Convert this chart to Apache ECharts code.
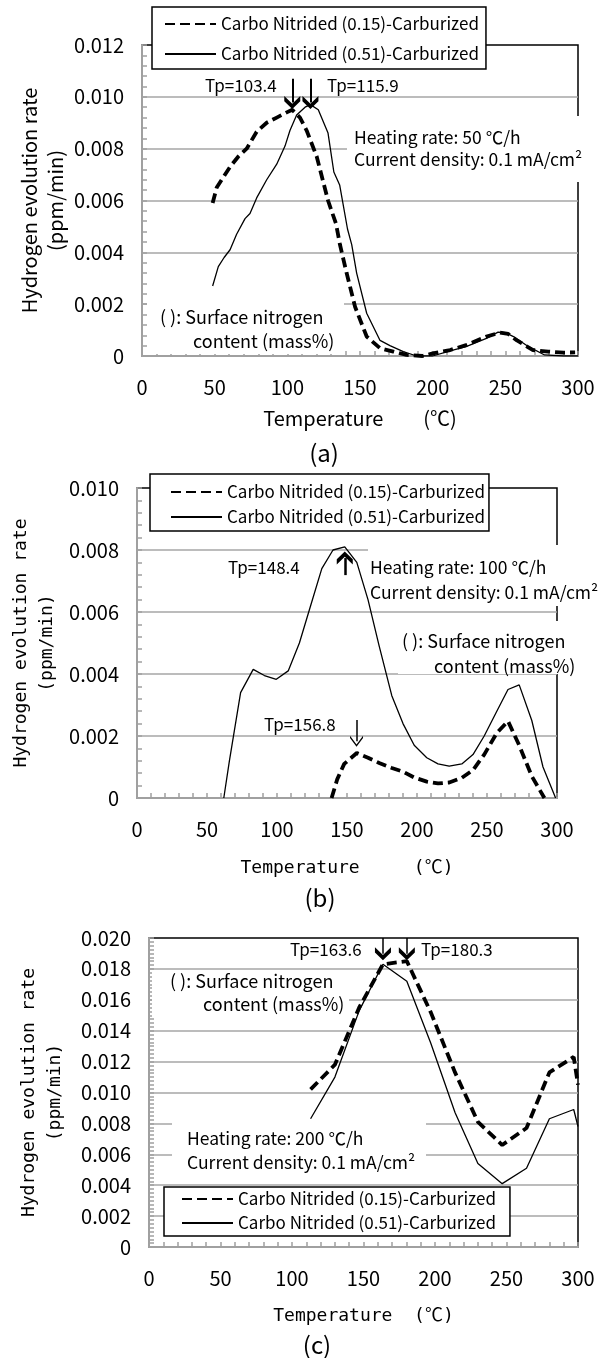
<!DOCTYPE html>
<html>
<head>
<meta charset="utf-8">
<script src="https://cdn.jsdelivr.net/npm/echarts@6.0.0/dist/echarts.min.js"></script>
<style>
  html, body { margin: 0; padding: 0; background: #fff; }
  #chart { width: 606px; height: 1358px; }
</style>
</head>
<body>
<div id="chart"></div>
<script>
var N15 = 'Carbo Nitrided (0.15)-Carburized';
var N51 = 'Carbo Nitrided (0.51)-Carburized';

// (a) heating rate 50 ℃/h
var tempA15 = [48.6, 51.4, 56, 60.6, 66.3, 72, 78.9, 85.8, 92.7, 99.6, 103.4, 108.7, 113.3, 120.2, 128, 133.5, 136.2, 140.8, 146.6, 154.6, 163.8, 173, 182, 193, 200, 212, 223, 237, 246.3, 252, 258, 269, 279.5, 290, 298];
var rateA15 = [0.0059, 0.0065, 0.0069, 0.0073, 0.0077, 0.0080, 0.00865, 0.0090, 0.0092, 0.0094, 0.0095, 0.0092, 0.0087, 0.0077, 0.0060, 0.0051, 0.0043, 0.0032, 0.0019, 0.00075, 0.0003, 0.00017, 0.00004, 0, 0.0001, 0.00023, 0.00042, 0.00075, 0.0009, 0.00085, 0.0006, 0.00023, 0.00017, 0.00013, 0.00014];
var tempA51 = [48.6, 52.5, 56.5, 60.6, 65.1, 70.9, 74.3, 78.9, 85.8, 92.7, 98.4, 101.8, 106.4, 112.2, 115.9, 121.3, 128, 132, 136, 141.4, 144.3, 147.7, 154.6, 163.8, 170.6, 179.8, 189, 200, 212, 223, 237, 245, 250, 255.6, 266, 277, 290, 300];
var rateA51 = [0.0027, 0.00345, 0.0038, 0.0041, 0.0047, 0.0053, 0.0055, 0.0061, 0.0068, 0.0074, 0.0081, 0.0087, 0.0093, 0.0096, 0.0097, 0.0095, 0.0086, 0.0071, 0.0066, 0.0049, 0.0043, 0.0032, 0.00165, 0.0006, 0.0004, 0.00017, 0, 0, 0.0002, 0.00036, 0.00068, 0.00092, 0.0009, 0.00075, 0.00036, 0.00004, 0, 0];

// (b) heating rate 100 ℃/h
var tempB15 = [139, 143, 148, 157, 165, 173, 182, 190, 198, 207, 215, 223, 232, 240, 248, 257, 265, 273, 282, 291];
var rateB15 = [0, 0.0006, 0.0011, 0.00145, 0.0013, 0.00113, 0.00097, 0.00085, 0.00066, 0.00053, 0.00047, 0.0005, 0.00065, 0.0009, 0.0014, 0.0021, 0.00248, 0.0017, 0.0007, 0];
var tempB51 = [62, 66, 74, 83, 91, 99.5, 108, 116, 124, 132, 140, 148.4, 157, 165, 173, 182, 190, 198, 207, 215, 223, 232, 240, 248, 257, 265, 273, 282, 290, 299];
var rateB51 = [0, 0.0012, 0.0034, 0.00415, 0.00395, 0.00383, 0.0041, 0.005, 0.0062, 0.0074, 0.008, 0.0081, 0.0076, 0.0064, 0.0049, 0.0033, 0.0024, 0.0017, 0.0013, 0.0011, 0.00103, 0.0011, 0.0014, 0.0020, 0.0028, 0.0035, 0.00365, 0.0025, 0.001, 0];

// (c) heating rate 200 ℃/h
var tempC = [113, 130, 147, 163.6, 180.3, 197, 214, 230, 247, 264, 280, 297, 300];
var rateC15 = [0.0102, 0.0118, 0.0155, 0.0183, 0.0185, 0.0152, 0.0113, 0.0081, 0.0066, 0.0077, 0.0113, 0.0123, 0.0105];
var rateC51 = [0.0083, 0.0110, 0.0153, 0.0183, 0.0172, 0.0132, 0.0087, 0.0054, 0.0041, 0.0051, 0.0083, 0.0089, 0.0078];

// peak temperatures and arrow spans [from, to]
var tpA = [103.4, 115.9];
var arrowA = [0.0107, 0.00978];
var tpB = [148.4, 156.8];
var arrowB1 = [0.00719, 0.00774];
var arrowB2 = [0.00252, 0.00183];
var tpC = [163.6, 180.3];
var arrowC = [0.020, 0.01898];

var yMax = [0.012, 0.010, 0.020];

var JP = '"Noto Sans CJK JP", sans-serif';
var MONO = '"DejaVu Sans Mono", "Noto Sans CJK JP", monospace';
var GRAY = '#a0a0a0';
var CHEV = 'path://M5,0 L10,6 L10,10 L5,4 L0,10 L0,6 Z';
var CHEV_THIN = 'path://M5,0 L10,8 L10,10 L5,2 L0,10 L0,8 Z';

function zip(t, v) { return t.map(function (x, i) { return [x, v[i]]; }); }

function xAx(gi, name, font, size, gap) {
    return {
        type: 'value', gridIndex: gi, min: 0, max: 300, interval: 50,
        axisLine: { show: true, onZero: false, lineStyle: { color: GRAY, width: 2 } },
        axisTick: { show: true, inside: true, length: 5, lineStyle: { color: GRAY, width: 1.5 } },
        minorTick: { show: true, splitNumber: 5, length: 5, lineStyle: { color: GRAY, width: 1.5 } },
        axisLabel: { color: '#000', fontSize: 20, fontFamily: JP, margin: 21 },
        splitLine: { show: false },
        name: name, nameLocation: 'middle', nameGap: gap, nameMoveOverlap: false,
        nameTextStyle: { color: '#000', fontSize: size, fontFamily: font }
    };
}

function yAx(gi, max, minorSplit, font, size, gap) {
    return {
        type: 'value', gridIndex: gi, min: 0, max: max, interval: 0.002,
        axisLine: { show: true, onZero: false, lineStyle: { color: GRAY, width: 2 } },
        axisTick: { show: true, inside: true, length: 5, lineStyle: { color: GRAY, width: 1.5 } },
        minorTick: { show: true, splitNumber: minorSplit, length: 5, lineStyle: { color: GRAY, width: 1.5 } },
        axisLabel: {
            color: '#000', fontSize: 20, fontFamily: JP, margin: 18,
            formatter: function (v) { return v === 0 ? '0' : v.toFixed(3); }
        },
        splitLine: { show: true, showMinLine: false, showMaxLine: false, lineStyle: { color: '#a6a6a6', width: 1.5 } },
        name: 'Hydrogen evolution rate\n(ppm/min)', nameLocation: 'middle', nameGap: gap, nameMoveOverlap: false,
        nameTextStyle: { color: '#000', fontSize: size, fontFamily: font, lineHeight: 26 }
    };
}

function dashed(gi, data, mark) {
    return {
        name: N15, type: 'line', xAxisIndex: gi, yAxisIndex: gi, data: data,
        symbol: 'none', color: '#000', z: 3,
        lineStyle: { color: '#000', width: 3.8, type: [10, 5] },
        markLine: mark
    };
}
function solid(gi, data, mark) {
    return {
        name: N51, type: 'line', xAxisIndex: gi, yAxisIndex: gi, data: data,
        symbol: 'none', color: '#000', z: 3,
        lineStyle: { color: '#000', width: 1.3 },
        markLine: mark
    };
}

function arrows(xs, span, width, sym, size) {
    return {
        silent: true, animation: false, symbol: ['none', sym], symbolSize: size,
        label: { show: false },
        lineStyle: { color: '#000', type: 'solid', width: width },
        emphasis: { disabled: true },
        data: xs.map(function (x) { return [{ coord: [x, span[0]] }, { coord: [x, span[1]] }]; })
    };
}

function legendAt(left, top, padding, gap) {
    return {
        left: left, top: top, orient: 'vertical', padding: padding,
        itemWidth: 51, itemHeight: 14, itemGap: gap,
        backgroundColor: '#fff', borderColor: '#000', borderWidth: 1.5, borderRadius: 0,
        data: [N15, N51], selectedMode: false,
        itemStyle: { opacity: 0 },
        textStyle: { color: '#000', fontSize: 17, fontFamily: JP }
    };
}

function box(x, y, w, h) {
    return { type: 'rect', z: 1, shape: { x: x, y: y, width: w, height: h }, style: { fill: '#fff' }, silent: true };
}
function txt(x, y, s, size, align) {
    return {
        type: 'text', z: 1.5, x: x, y: y, silent: true,
        style: {
            text: s, font: size + 'px ' + JP, fill: '#000',
            align: align || 'left', verticalAlign: 'middle',
            textAlign: align || 'left', textVerticalAlign: 'middle'
        }
    };
}

var chart = echarts.init(document.getElementById('chart'));
chart.setOption({
    animation: false,
    backgroundColor: '#fff',
    grid: [
        { left: 142, top: 45, width: 436, height: 311 },
        { left: 137, top: 488, width: 420, height: 310 },
        { left: 149, top: 938, width: 429, height: 309 }
    ].map(function (g) {
        return Object.assign(g, { show: true, borderColor: '#000', borderWidth: 1.5, backgroundColor: 'transparent', containLabel: false, outerBoundsMode: 'none' });
    }),
    xAxis: [
        xAx(0, 'Temperature\u3000\u3000(℃)', JP, 20, 52),
        xAx(1, 'Temperature     (℃)', MONO, 18, 61),
        xAx(2, 'Temperature  (℃)', MONO, 18, 60)
    ],
    yAxis: [
        yAx(0, yMax[0], 5, JP, 20, 74),
        yAx(1, yMax[1], 5, MONO, 18, 77),
        yAx(2, yMax[2], 8, MONO, 18, 81)
    ],
    legend: [
        legendAt(152, 7, [8.5, 7, 6.5, 12], 13),
        legendAt(150, 474, [9.5, 4, 5.5, 20], 8),
        legendAt(164, 1187, [3.5, 14, 4.5, 17], 7)
    ],
    series: [
        dashed(0, zip(tempA15, rateA15), arrows([tpA[0]], arrowA, 2, CHEV, [16, 13])),
        solid(0, zip(tempA51, rateA51), arrows([tpA[1]], arrowA, 2, CHEV, [16, 13])),
        dashed(1, zip(tempB15, rateB15), arrows([tpB[1]], arrowB2, 1.5, CHEV_THIN, [13, 11])),
        solid(1, zip(tempB51, rateB51), arrows([tpB[0]], arrowB1, 2.5, CHEV, [16, 13])),
        dashed(2, zip(tempC, rateC15), arrows([tpC[1]], arrowC, 1.5, CHEV, [16, 13])),
        solid(2, zip(tempC, rateC51), arrows([tpC[0]], arrowC, 1.5, CHEV, [16, 13]))
    ],
    graphic: {
        elements: [
            // (a)
            box(347, 116, 253, 66), box(147, 298, 197, 56),
            txt(205, 86, 'Tp=103.4', 17), txt(327, 86, 'Tp=115.9', 17),
            txt(354, 137, 'Heating rate: 50 ℃/h', 17.5), txt(354, 159, 'Current density: 0.1 mA/cm²', 17.5),
            txt(160, 317, '( ): Surface nitrogen', 18), txt(193, 341, 'content (mass%)', 18),
            txt(324, 453, '(a)', 24, 'center'),
            // (b)
            box(368, 545, 235, 61), box(398, 621, 205, 53),
            txt(228, 568, 'Tp=148.4', 17),
            txt(370, 567, 'Heating rate: 100 ℃/h', 17.5), txt(370, 592, 'Current density: 0.1 mA/cm²', 17.5),
            txt(402, 641, '( ): Surface nitrogen', 18), txt(434, 666, 'content (mass%)', 18),
            txt(264, 725, 'Tp=156.8', 17),
            txt(320, 898, '(b)', 24, 'center'),
            // (c)
            box(152, 970, 197, 48), box(172, 1115, 254, 67),
            txt(290, 950, 'Tp=163.6', 17), txt(421, 950, 'Tp=180.3', 17),
            txt(170, 981, '( ): Surface nitrogen', 18), txt(203, 1004, 'content (mass%)', 18),
            txt(187, 1138, 'Heating rate: 200 ℃/h', 17.5), txt(187, 1162, 'Current density: 0.1 mA/cm²', 17.5),
            txt(317, 1345, '(c)', 24, 'center')
        ]
    }
});
</script>
</body>
</html>
